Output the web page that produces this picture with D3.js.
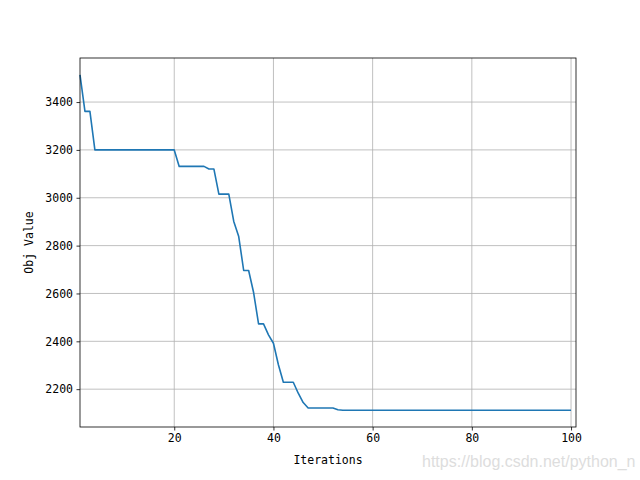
<!DOCTYPE html>
<html>
<head>
<meta charset="utf-8">
<script src="https://cdn.jsdelivr.net/npm/d3@7"></script>
<style>
  body { margin: 0; background: #fff; }
  text { font-family: "DejaVu Sans Mono", "Liberation Mono", monospace; }
</style>
</head>
<body>
<svg id="chart" width="640" height="480"></svg>
<script>
// objective value per iteration
var iterations = d3.range(1, 101)
var objValues = [
  3514, 3361, 3361, 3200, 3200, 3200, 3200, 3200, 3200, 3200,
  3200, 3200, 3200, 3200, 3200, 3200, 3200, 3200, 3200, 3200,
  3131, 3131, 3131, 3131, 3131, 3131, 3120, 3120, 3015, 3015,
  3015, 2901, 2838, 2696, 2696, 2604, 2473, 2473, 2427, 2392,
  2302, 2229, 2229, 2229, 2183, 2144, 2121, 2121, 2121, 2121,
  2121, 2121, 2114, 2112, 2112, 2112, 2112, 2112, 2112, 2112,
  2112, 2112, 2112, 2112, 2112, 2112, 2112, 2112, 2112, 2112,
  2112, 2112, 2112, 2112, 2112, 2112, 2112, 2112, 2112, 2112,
  2112, 2112, 2112, 2112, 2112, 2112, 2112, 2112, 2112, 2112,
  2112, 2112, 2112, 2112, 2112, 2112, 2112, 2112, 2112, 2112
]
var xTicks = [20, 40, 60, 80, 100]
var yTicks = [2200, 2400, 2600, 2800, 3000, 3200, 3400]

var margin = {left: 80, right: 64, top: 58, bottom: 53}
var W = 640, H = 480
var svg = d3.select("#chart")

// matplotlib style 5% margin on y
var ymin = d3.min(objValues), ymax = d3.max(objValues)
var pad = (ymax - ymin) * 0.05

var x = d3.scaleLinear().domain([1, 101]).range([margin.left, W - margin.right])
var y = d3.scaleLinear().domain([ymin - pad, ymax + pad]).range([H - margin.bottom, margin.top])

// grid
var grid = svg.append("g")
grid.selectAll(".gx").data(xTicks).enter().append("line")
  .attr("x1", function (d) { return x(d) }).attr("x2", function (d) { return x(d) })
  .attr("y1", margin.top).attr("y2", H - margin.bottom)
  .attr("stroke", "#b0b0b0").attr("stroke-width", 0.8)
grid.selectAll(".gy").data(yTicks).enter().append("line")
  .attr("y1", function (d) { return y(d) }).attr("y2", function (d) { return y(d) })
  .attr("x1", margin.left).attr("x2", W - margin.right)
  .attr("stroke", "#b0b0b0").attr("stroke-width", 0.8)

// line
var line = d3.line()
  .x(function (d, i) { return x(iterations[i]) })
  .y(function (d) { return y(d) })
svg.append("path").datum(objValues)
  .attr("d", line)
  .attr("fill", "none")
  .attr("stroke", "#1f77b4")
  .attr("stroke-width", 1.6)
  .attr("stroke-linejoin", "round")

// axes
var fmt = d3.format("d")
var xAxis = d3.axisBottom(x).tickValues(xTicks).tickFormat(fmt).tickSizeInner(3.5).tickSizeOuter(0).tickPadding(3.5)
var yAxis = d3.axisLeft(y).tickValues(yTicks).tickFormat(fmt).tickSizeInner(3.5).tickSizeOuter(0).tickPadding(3.5)
var gx = svg.append("g").attr("transform", "translate(0," + (H - margin.bottom) + ")").call(xAxis)
var gy = svg.append("g").attr("transform", "translate(" + margin.left + ",0)").call(yAxis)
;[gx, gy].forEach(function (g) {
  g.select(".domain").remove()
  g.selectAll(".tick line").attr("stroke", "#000").attr("stroke-width", 0.8)
  g.selectAll(".tick text").attr("fill", "#000")
    .style("font-family", "'DejaVu Sans Mono', monospace").style("font-size", "11.5px")
})

// frame
svg.append("rect")
  .attr("x", margin.left).attr("y", margin.top)
  .attr("width", W - margin.left - margin.right)
  .attr("height", H - margin.top - margin.bottom)
  .attr("fill", "none").attr("stroke", "#000").attr("stroke-width", 0.8)

// labels
svg.append("text")
  .attr("x", (margin.left + W - margin.right) / 2).attr("y", 464)
  .attr("text-anchor", "middle").style("font-size", "11.5px")
  .text("Iterations")
svg.append("text")
  .attr("transform", "translate(33," + ((margin.top + H - margin.bottom) / 2) + ") rotate(-90)")
  .attr("text-anchor", "middle").style("font-size", "11.5px")
  .text("Obj Value")

// watermark
svg.append("text")
  .attr("x", 422).attr("y", 467)
  .style("font-family", "'Liberation Sans', Arial, sans-serif").style("font-size", "16px")
  .attr("fill", "#dddddd")
  .text("https://blog.csdn.net/python_n")
</script>
</body>
</html>
